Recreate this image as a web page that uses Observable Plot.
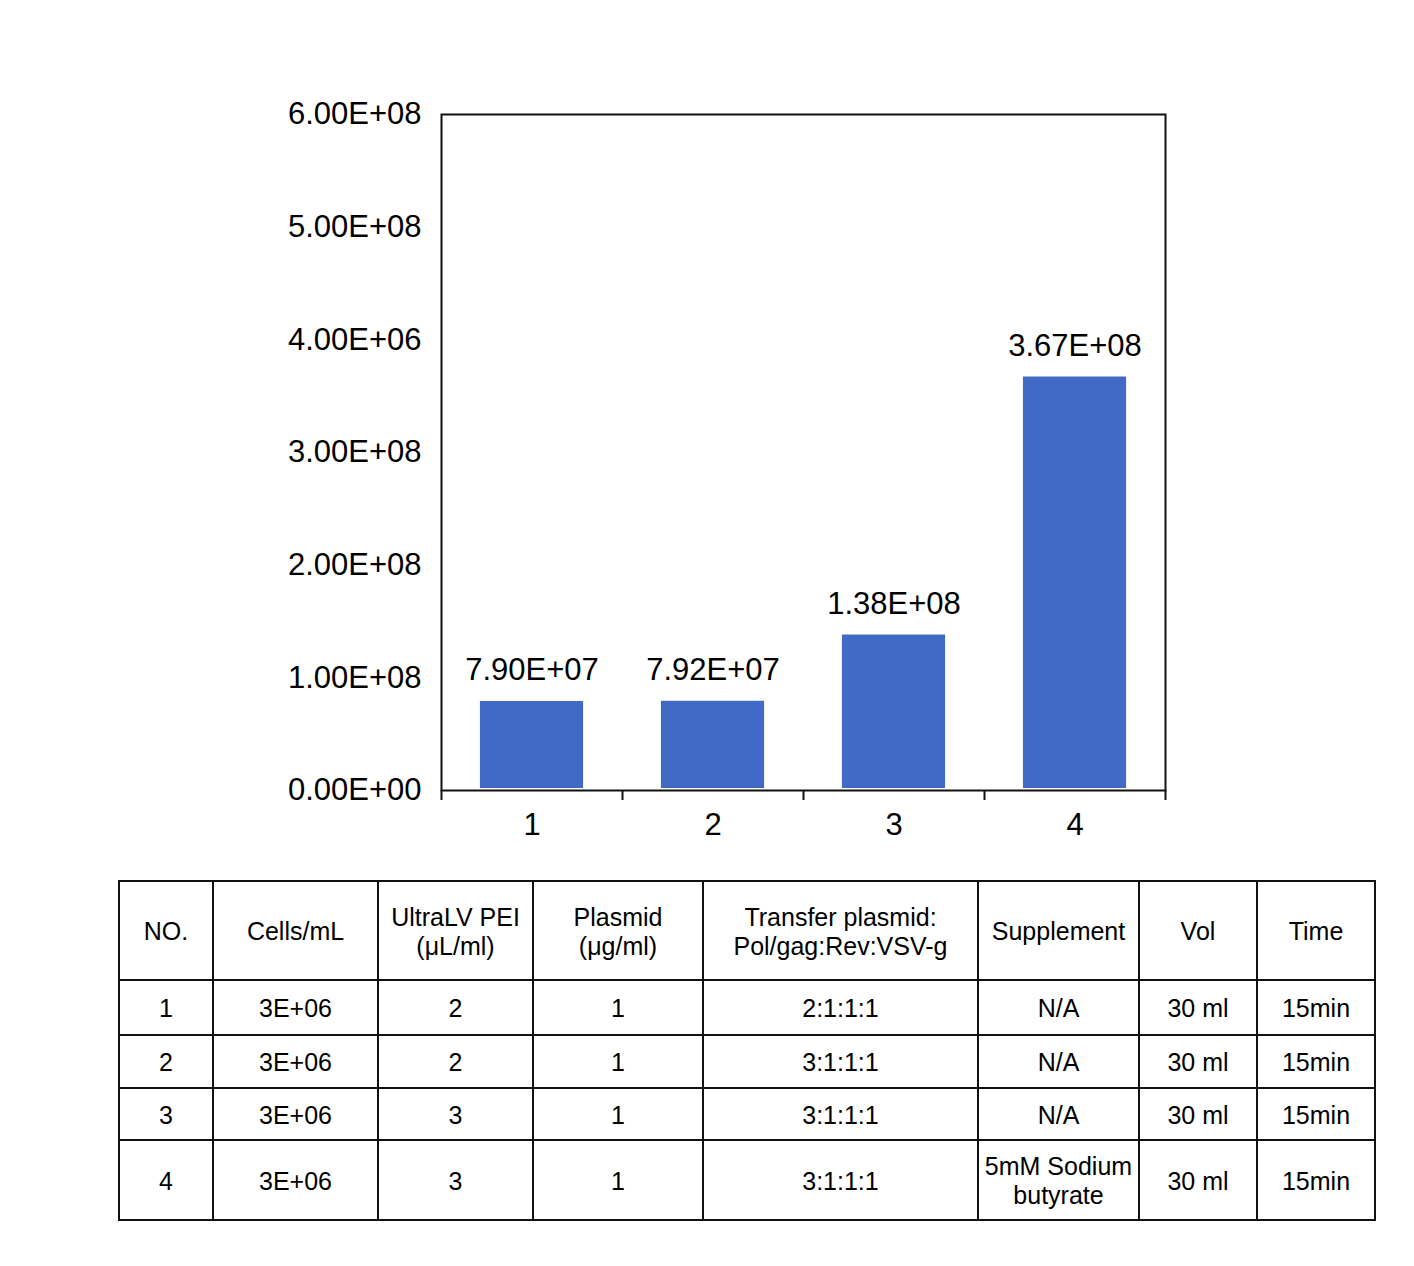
<!DOCTYPE html>
<html>
<head>
<meta charset="utf-8">
<script src="https://cdn.jsdelivr.net/npm/d3@7"></script>
<script src="https://cdn.jsdelivr.net/npm/@observablehq/plot@0.6"></script>
<style>
  html, body { margin: 0; padding: 0; background: #fff; }
  body { width: 1414px; height: 1266px; position: relative; font-family: "Liberation Sans", Arial, sans-serif; }
  #chart { position: absolute; left: 0; top: 0; }
  #tbl { position: absolute; left: 118px; top: 880px; border-collapse: collapse; table-layout: fixed; }
  #tbl td { border: 2px solid #111; text-align: center; vertical-align: middle; font-size: 25px; line-height: 29px; color: #000; padding: 2px 0 0 0; }
</style>
</head>
<body>
<div id="chart"></div>
<table id="tbl"></table>
<script>
// ---- data ----
const groups = [1, 2, 3, 4];
const titers = [7.90e7, 7.92e7, 1.38e8, 3.67e8];
const titerLabels = ["7.90E+07", "7.92E+07", "1.38E+08", "3.67E+08"];
const yTickValues = [0, 1e8, 2e8, 3e8, 4e8, 5e8, 6e8];
const yTickLabels = ["0.00E+00", "1.00E+08", "2.00E+08", "3.00E+08", "4.00E+06", "5.00E+08", "6.00E+08"];

const tableHeader = ["NO.", "Cells/mL", "UltraLV PEI<br>(μL/ml)", "Plasmid<br>(μg/ml)", "Transfer plasmid:<br>Pol/gag:Rev:VSV-g", "Supplement", "Vol", "Time"];
const colNo = ["1", "2", "3", "4"];
const colCells = ["3E+06", "3E+06", "3E+06", "3E+06"];
const colPEI = ["2", "2", "3", "3"];
const colPlasmid = ["1", "1", "1", "1"];
const colRatio = ["2:1:1:1", "3:1:1:1", "3:1:1:1", "3:1:1:1"];
const colSupplement = ["N/A", "N/A", "N/A", "5mM Sodium<br>butyrate"];
const colVol = ["30 ml", "30 ml", "30 ml", "30 ml"];
const colTime = ["15min", "15min", "15min", "15min"];

const data = groups.map((g, i) => ({no: g, value: titers[i], label: titerLabels[i]}));
const halfWidth = 0.285;

const chart = Plot.plot({
  width: 1414,
  height: 870,
  marginLeft: 441,
  marginRight: 249,
  marginTop: 114,
  marginBottom: 80,
  style: {fontFamily: "'Liberation Sans', Arial, sans-serif", color: "#000", background: "white", fontSize: "31px"},
  x: {type: "linear", domain: [0.5, 4.5]},
  y: {domain: [0, 6e8]},
  marks: [
    Plot.rectY(data, {x1: d => d.no - halfWidth, x2: d => d.no + halfWidth, y1: 0, y2: "value", fill: "#4169c6", insetBottom: 2}),
    Plot.text(data, {x: "no", y: "value", text: "label", dy: -21, lineAnchor: "bottom", fontSize: 31, fill: "#000"}),
    Plot.axisY({ticks: yTickValues, tickFormat: (d) => yTickLabels[yTickValues.indexOf(d)], tickSize: 0, tickPadding: 20, fontSize: 31, label: null}),
    Plot.axisX({ticks: [0.5, 1.5, 2.5, 3.5, 4.5], tickFormat: () => "", tickSize: 10, strokeWidth: 2, stroke: "#111", label: null}),
    Plot.axisX({ticks: groups, tickFormat: d => String(d), tickSize: 0, tickPadding: 22, fontSize: 31, label: null}),
    Plot.frame({stroke: "#111", strokeWidth: 2})
  ]
});
document.getElementById("chart").appendChild(chart);

// ---- table ----
const colWidths = [94, 165, 155, 170, 275, 161, 118, 118];
const rowHeights = [99, 55, 53, 52, 80];
const tbl = document.getElementById("tbl");
const cg = document.createElement("colgroup");
colWidths.forEach(w => { const c = document.createElement("col"); c.style.width = w + "px"; cg.appendChild(c); });
tbl.appendChild(cg);
const rows = [tableHeader];
for (let i = 0; i < colNo.length; i++) {
  rows.push([colNo[i], colCells[i], colPEI[i], colPlasmid[i], colRatio[i], colSupplement[i], colVol[i], colTime[i]]);
}
rows.forEach((r, ri) => {
  const tr = document.createElement("tr");
  tr.style.height = rowHeights[ri] + "px";
  r.forEach(v => { const td = document.createElement("td"); td.innerHTML = v; tr.appendChild(td); });
  tbl.appendChild(tr);
});
</script>
</body>
</html>
